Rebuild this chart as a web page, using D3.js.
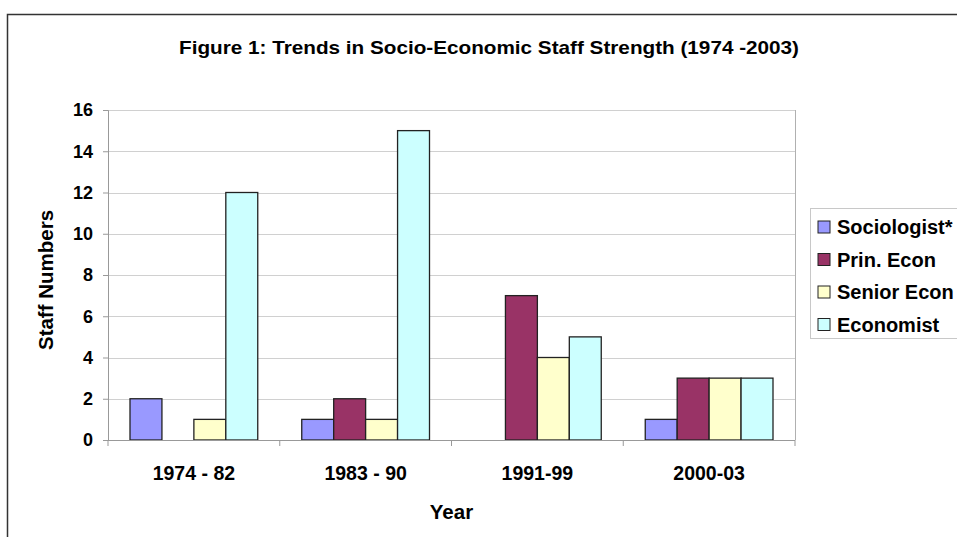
<!DOCTYPE html>
<html>
<head>
<meta charset="utf-8">
<script src="https://cdnjs.cloudflare.com/ajax/libs/d3/7.8.5/d3.min.js"></script>
<style>
  body { margin: 0; background: #fff; }
  text { font-family: "Liberation Sans", Arial, sans-serif; font-weight: bold; fill: #000; }
</style>
</head>
<body>
<div id="chart"></div>
<script>
var periods = ["1974 - 82", "1983 - 90", "1991-99", "2000-03"];
var seriesNames = ["Sociologist*", "Prin. Econ", "Senior Econ", "Economist"];
var sociologist = [2, 1, 0, 1];
var prinEcon = [0, 2, 7, 3];
var seniorEcon = [1, 1, 4, 3];
var economist = [12, 15, 5, 3];
var yTicks = [0, 2, 4, 6, 8, 10, 12, 14, 16];
var colors = ["#9999ff", "#993366", "#ffffcc", "#ccffff"];

var seriesValues = [sociologist, prinEcon, seniorEcon, economist];

var W = 957, H = 537;
var margin = { top: 110, left: 108, right: 162, bottom: 97 };
var width = W - margin.left - margin.right,
    height = H - margin.top - margin.bottom;

var svg = d3.select("#chart").append("svg")
    .attr("width", W)
    .attr("height", H);

// outer chart border (cut off on right and bottom)
svg.append("path")
    .attr("d", "M7.5," + H + "V14.5H" + W)
    .attr("fill", "none")
    .attr("stroke", "#333")
    .attr("stroke-width", 1.5);

svg.append("text")
    .attr("x", 489)
    .attr("y", 54)
    .attr("text-anchor", "middle")
    .attr("font-size", 18.5)
    .attr("textLength", 620)
    .attr("lengthAdjust", "spacingAndGlyphs")
    .text("Figure 1: Trends in Socio-Economic Staff Strength (1974 -2003)");

var canvas = svg.append("g")
    .attr("transform", "translate(" + margin.left + "," + margin.top + ")");

var x0 = d3.scaleBand()
    .domain(periods)
    .range([0, width]);

var x1 = d3.scaleBand()
    .domain(seriesNames)
    .range([22, x0.bandwidth() - 22]);

var y = d3.scaleLinear()
    .domain([0, 16])
    .range([height, 0]);

// gridlines
canvas.append("g")
    .selectAll("line")
    .data(yTicks.slice(1))
    .enter().append("line")
    .attr("x1", 0)
    .attr("x2", width)
    .attr("y1", function (d) { return Math.round(y(d)) + 0.5; })
    .attr("y2", function (d) { return Math.round(y(d)) + 0.5; })
    .attr("stroke", "#d0d0d0")
    .attr("stroke-width", 1);

// right border of plot area
canvas.append("line")
    .attr("x1", width + 0.5).attr("x2", width + 0.5)
    .attr("y1", 0).attr("y2", height)
    .attr("stroke", "#b0b0b0");

// bars
var groups = canvas.append("g")
    .selectAll("g")
    .data(periods)
    .enter().append("g")
    .attr("transform", function (d) { return "translate(" + x0(d) + ",0)"; });

groups.selectAll("rect")
    .data(function (d, i) {
        return seriesNames.map(function (s, j) {
            return { key: s, value: seriesValues[j][i], idx: j };
        }).filter(function (e) { return e.value > 0; });
    })
    .enter().append("rect")
    .attr("x", function (d) { return x1(d.key); })
    .attr("y", function (d) { return y(d.value); })
    .attr("width", x1.bandwidth())
    .attr("height", function (d) { return y(0) - y(d.value); })
    .attr("fill", function (d) { return colors[d.idx]; })
    .attr("stroke", "#222")
    .attr("stroke-width", 1.3);

// y axis
var yAxis = d3.axisLeft(y)
    .tickValues(yTicks)
    .tickSize(5)
    .tickPadding(10);

var yg = canvas.append("g").call(yAxis);
yg.select(".domain").attr("stroke", "#999");
yg.selectAll(".tick line").attr("stroke", "#999");
yg.selectAll("text")
    .attr("font-size", 18)
    .attr("font-family", "Liberation Sans, Arial, sans-serif")
    .attr("font-weight", "bold");

// x axis
var xg = canvas.append("g")
    .attr("transform", "translate(0," + height + ")");
xg.append("line")
    .attr("x1", 0).attr("x2", width)
    .attr("y1", 0.5).attr("y2", 0.5)
    .attr("stroke", "#999");
xg.selectAll(".sep")
    .data(d3.range(periods.length + 1))
    .enter().append("line")
    .attr("x1", function (d) { return d * x0.bandwidth(); })
    .attr("x2", function (d) { return d * x0.bandwidth(); })
    .attr("y1", 0).attr("y2", 6)
    .attr("stroke", "#999");
xg.selectAll(".xlab")
    .data(periods)
    .enter().append("text")
    .attr("x", function (d) { return x0(d) + x0.bandwidth() / 2; })
    .attr("y", 40)
    .attr("text-anchor", "middle")
    .attr("font-size", 19.5)
    .text(function (d) { return d; });

canvas.append("text")
    .attr("x", width / 2)
    .attr("y", height + 79)
    .attr("text-anchor", "middle")
    .attr("font-size", 20.5)
    .text("Year");

canvas.append("text")
    .attr("transform", "translate(" + (-55) + "," + 170 + ") rotate(-90)")
    .attr("text-anchor", "middle")
    .attr("font-size", 20.5)
    .text("Staff Numbers");

// legend
var legend = svg.append("g")
    .attr("transform", "translate(810,208)");

legend.append("rect")
    .attr("x", 0.5).attr("y", 0.5)
    .attr("width", 160).attr("height", 130)
    .attr("fill", "#fff")
    .attr("stroke", "#c8c8c8");

var li = legend.selectAll(".item")
    .data(seriesNames)
    .enter().append("g")
    .attr("transform", function (d, i) { return "translate(0," + (19 + i * 32.5) + ")"; });

li.append("rect")
    .attr("x", 8)
    .attr("y", -6)
    .attr("width", 12)
    .attr("height", 12)
    .attr("fill", function (d, i) { return colors[i]; })
    .attr("stroke", "#222")
    .attr("stroke-width", 1);

li.append("text")
    .attr("x", 27)
    .attr("y", 0)
    .attr("dy", "0.36em")
    .attr("font-size", 20)
    .text(function (d) { return d; });
</script>
</body>
</html>
